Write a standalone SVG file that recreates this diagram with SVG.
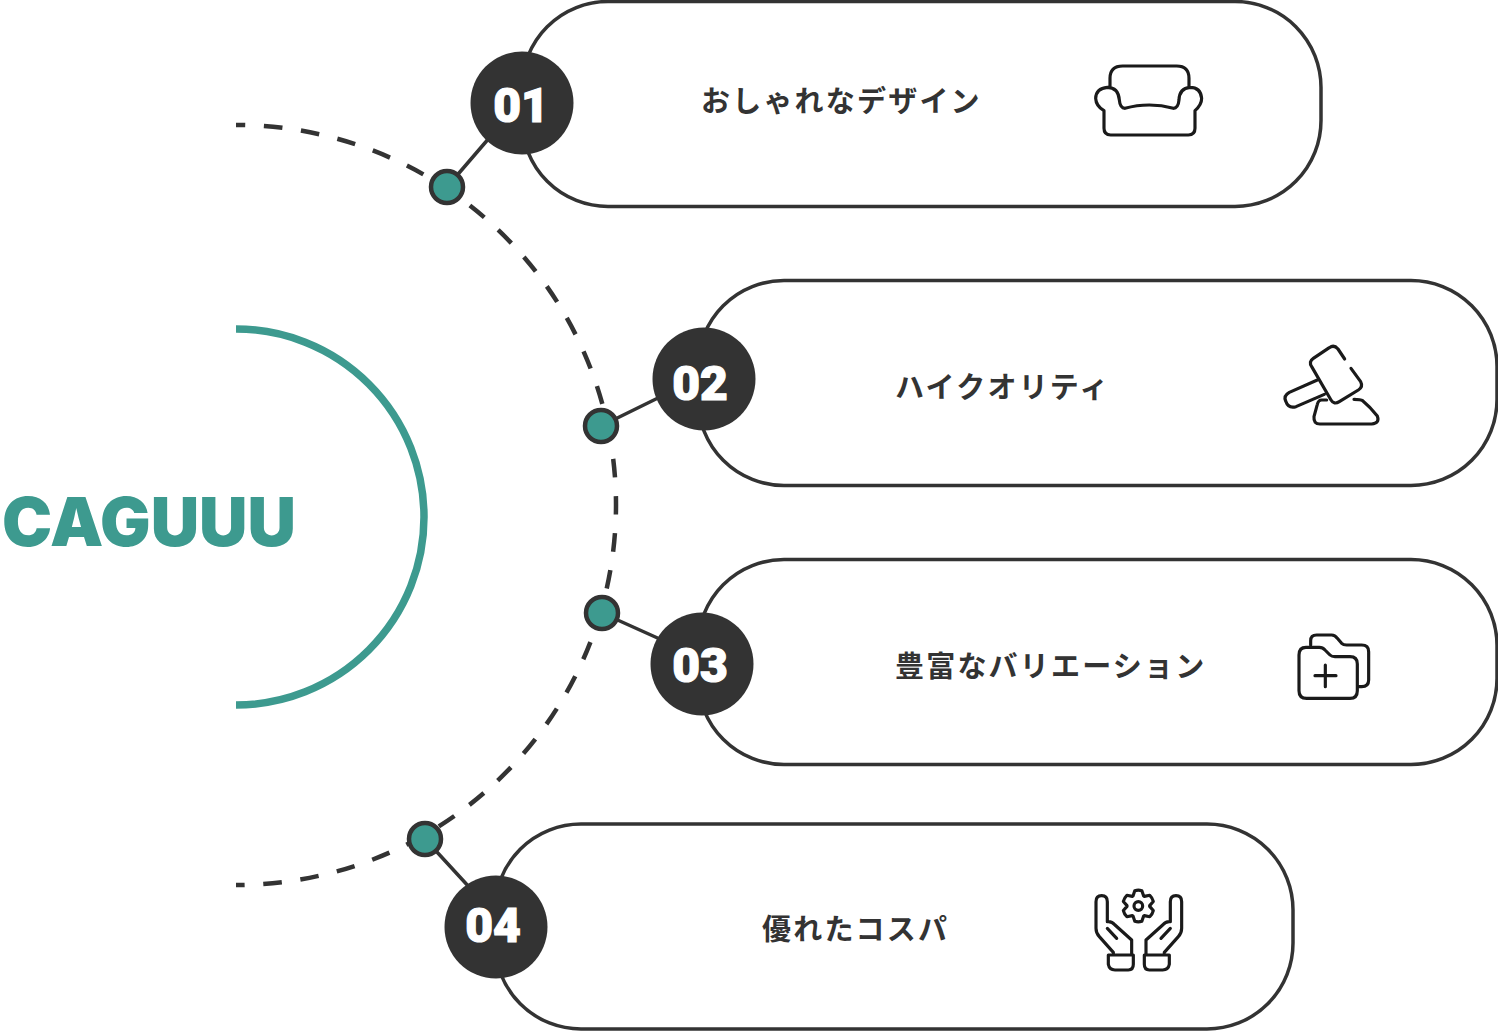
<svg xmlns="http://www.w3.org/2000/svg" width="1498" height="1031" viewBox="0 0 1498 1031">
<style>
.pill{fill:#fff;stroke:#333;stroke-width:3.5}
.num{fill:#333}
.numt{font-family:Roboto,"Liberation Sans",sans-serif;font-weight:900;font-size:48px;fill:#fff;text-anchor:middle;stroke:#fff;stroke-width:1.2}
.lab{font-family:"Noto Sans CJK JP",sans-serif;font-weight:700;font-size:29px;letter-spacing:2.2px;fill:#333}
.dot{fill:#3d9a8f;stroke:#333;stroke-width:4.500}
.ic{fill:none;stroke:#1a1a1a;stroke-width:9.500;stroke-linecap:round;stroke-linejoin:round}
.con{fill:none;stroke:#333;stroke-width:3.500}
.arc{fill:none;stroke:#333;stroke-width:4.500;stroke-dasharray:18.660 18.650;stroke-dashoffset:9.330}
</style>
<rect width="1498" height="1031" fill="#fff"/>
<g id="hub">
<path d="M236 329A188 188 0 0 1 236 705" fill="none" stroke="#3d9a8f" stroke-width="7.500"/>
<text x="149" y="546" font-family="Inter,'Liberation Sans',sans-serif" font-weight="900" font-size="68" fill="#3d9a8f" text-anchor="middle" textLength="294" lengthAdjust="spacingAndGlyphs">CAGUUU</text>
</g>
<g id="connectors">
<path class="arc" d="M236 125A380 380 0 0 1 236 885"/>
<path class="con" d="M447 187L490 137M601 426L660 397M602 613L662 640M425 839L470 888"/>
</g>
<g id="node1">
<rect class="pill" x="522" y="1.500" width="799" height="205" rx="86"/>
<circle class="num" cx="522" cy="103" r="51.500"/>
<text class="numt" x="521" y="122">01</text>
<circle class="dot" cx="447" cy="187" r="16"/>
<text class="lab" x="701" y="112">おしゃれなデザイン</text>
<g transform="translate(1080 50) scale(.3333)"><path class="ic" d="M90 110V85Q90 48 128 48H290Q327 48 327 85V110M72 182V235Q72 255 92 255H325Q345 255 345 235V182Q365 165 365 145Q362 112 330 112Q298 115 297 150Q295 175 280 175Q245 165 208 165Q170 165 135 175Q120 175 118 150Q115 112 82 112Q48 115 47 145Q48 168 72 182Z"/></g>
</g>
<g id="node2">
<rect class="pill" x="698" y="280.500" width="799" height="205" rx="86"/>
<circle class="num" cx="704" cy="379" r="51.500"/>
<text class="numt" x="700" y="400">02</text>
<circle class="dot" cx="601" cy="426" r="16"/>
<text class="lab" x="895" y="398">ハイクオリティ</text>
<g transform="translate(1270 335) scale(.3333)"><path class="ic" d="M224 72L204 42Q192 28 178 38L130 70Q115 80 125 95L183 195Q192 210 208 200L265 165Q280 155 272 140L243 100M142 135L58 172Q40 182 47 198Q55 222 78 215L163 178M170 195H155Q145 195 142 208L132 245Q130 267 150 267H305Q330 265 322 243Q300 215 278 197Q272 193 252 193"/></g>
</g>
<g id="node3">
<rect class="pill" x="698" y="559.500" width="799" height="205" rx="86"/>
<circle class="num" cx="702" cy="664" r="51.500"/>
<text class="numt" x="700" y="682">03</text>
<circle class="dot" cx="602" cy="613" r="16"/>
<text class="lab" x="895" y="677">豊富なバリエーション</text>
<g transform="translate(1280 620) scale(.3333)"><path class="ic" d="M57 105Q57 82 78 82H118Q128 82 135 90L150 105Q155 110 165 110H210Q232 110 232 132V212Q232 235 210 235H80Q57 235 57 212ZM92 75V62Q92 45 110 45H155Q165 45 172 55L185 70Q190 75 200 75H245Q266 75 266 95V180Q266 200 245 200H232M105 167H168M136 135V200"/></g>
</g>
<g id="node4">
<rect class="pill" x="495" y="824" width="798" height="205" rx="86"/>
<circle class="num" cx="496" cy="927" r="51.500"/>
<text class="numt" x="493" y="942">04</text>
<circle class="dot" cx="425" cy="839" r="16"/>
<text class="lab" x="762" y="940">優れたコスパ</text>
<g transform="translate(1080 875) scale(.3333)"><path class="ic" d="M159 63L164.400 47.200Q175 44 185.600 47.200L191 63L193 64.200L209.400 60.900Q217 68 219.900 79.300L209 91.800L209 94.200L219.900 106.700Q217 118 209.400 125.100L193 121.800L191 123L185.600 138.800Q175 142 164.400 138.800L159 123L157 121.800L140.600 125.100Q133 118 130.100 106.700L141 94.200L141 91.800L130.100 79.300Q133 68 140.600 60.900L157 64.200ZM162 93A13 13 0 1 0 188 93A13 13 0 1 0 162 93ZM48 160V80Q48 62 65 62Q82 62 82 80V140M48 160Q48 175 58 185L100 232V240M82 140Q95 138 105 150L155 195V240M82 160L110 190M85 240H160V268Q160 285 145 285H105Q88 285 85 268ZM305 160V80Q305 62 288 62Q271 62 271 80V140M305 160Q305 175 295 185L253 232V240M271 140Q258 138 248 150L198 195V240M271 160L243 190M268 240H193V268Q193 285 208 285H248Q265 285 268 268Z"/></g>
</g>
</svg>
